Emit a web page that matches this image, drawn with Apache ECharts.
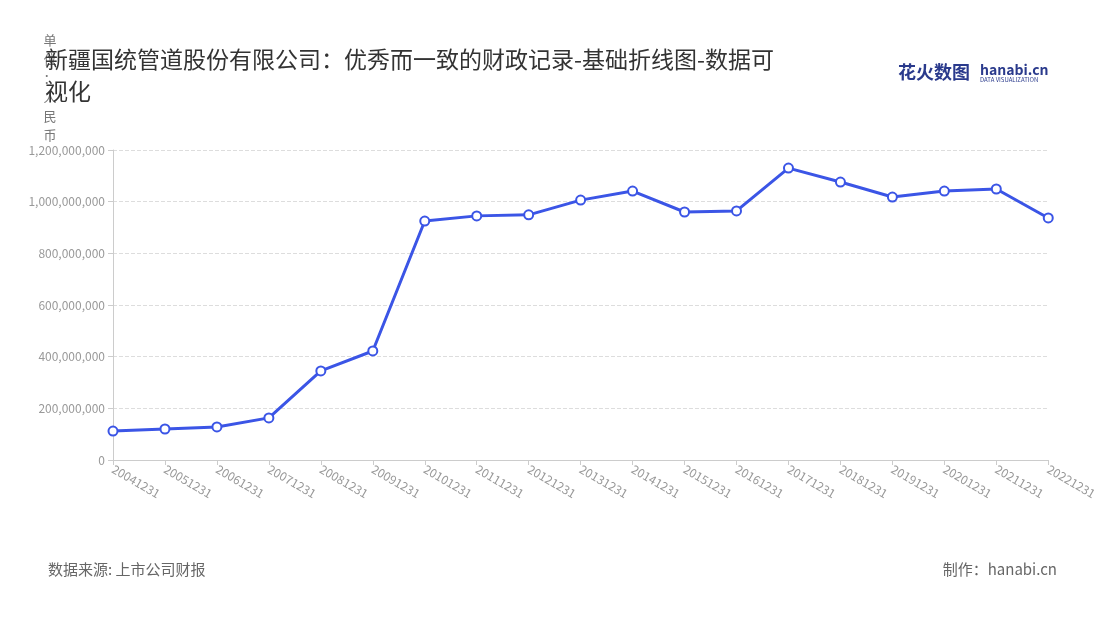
<!DOCTYPE html>
<html><head><meta charset="utf-8">
<script src="https://cdn.jsdelivr.net/npm/echarts@6/dist/echarts.min.js"></script>
<style>html,body{margin:0;padding:0;background:#fff}#c{width:1100px;height:620px}</style>
</head><body><div id="c"></div>
<script>
const categories = ['20041231','20051231','20061231','20071231','20081231','20091231','20101231','20111231','20121231','20131231','20141231','20151231','20161231','20171231','20181231','20191231','20201231','20211231','20221231'];
const values = [112000000,120000000,128000000,163000000,345000000,422000000,925000000,945000000,949000000,1006000000,1041000000,960000000,964000000,1130000000,1076000000,1018000000,1041000000,1049000000,937000000];
const yTicks = {min:0, max:1200000000, interval:200000000};
const chart = echarts.init(document.getElementById('c'));
chart.setOption({
  backgroundColor:'#fff',
  textStyle:{fontFamily:'Noto Sans CJK SC'},
  title:[{text:'新疆国统管道股份有限公司：优秀而一致的财政记录-基础折线图-数据可\n视化',left:40,top:38,textStyle:{fontSize:23,fontWeight:'normal',color:'#333',lineHeight:32,fontFamily:'Noto Sans CJK SC'}},
    {text:'花火数图',left:893,top:58,textStyle:{fontSize:18,fontWeight:'bold',color:'#2a3a8c'}},
    {text:'hanabi.cn',subtext:'DATA VISUALIZATION',left:975,top:58,itemGap:0,textStyle:{fontSize:14,fontWeight:'bold',color:'#2a3a8c'},subtextStyle:{fontSize:6,color:'#2a3a8c'}},
    {text:'数据来源: 上市公司财报',left:43,top:557,textStyle:{fontSize:15,fontWeight:'normal',color:'#666'}},
    {text:'制作：hanabi.cn',right:38,top:557,textStyle:{fontSize:15,fontWeight:'normal',color:'#666'}}],
  grid:{left:113,right:42,top:150,bottom:160},
  xAxis:{type:'category',data:categories,boundaryGap:false,
    axisLine:{lineStyle:{color:'#ccc'}},axisTick:{show:true,lineStyle:{color:'#ccc'}},
    axisLabel:{rotate:-30,color:'#999',fontSize:12,interval:0}},
  yAxis:{type:'value',min:yTicks.min,max:yTicks.max,interval:yTicks.interval,
    name:'单\n位\n：\n人\n民\n币',nameLocation:'end',nameGap:-62,
    nameTextStyle:{color:'#777',fontSize:13,lineHeight:19,align:'center',padding:[0,126,0,0]},
    axisLine:{show:true,lineStyle:{color:'#ccc'}},axisTick:{show:true,lineStyle:{color:'#ccc'}},
    axisLabel:{color:'#999',fontSize:12,formatter:v=>v.toLocaleString('en-US')},
    splitLine:{lineStyle:{type:'dashed',color:'#ddd'}}},
  series:[{type:'line',data:values,symbol:'circle',symbolSize:9,
    lineStyle:{color:'#3b55e6',width:3},
    itemStyle:{color:'#fff',borderColor:'#3b55e6',borderWidth:2}}]
});
</script></body></html>
